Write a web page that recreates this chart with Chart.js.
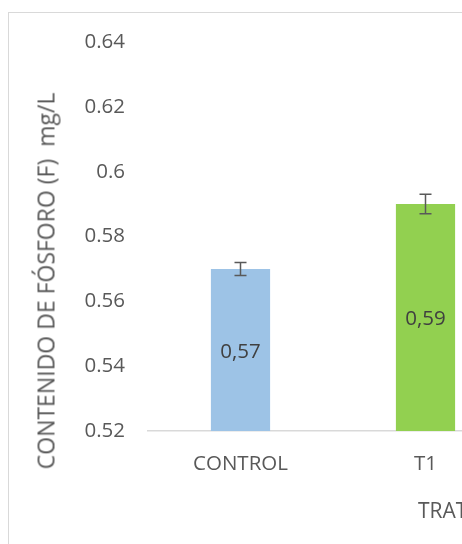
<!DOCTYPE html>
<html>
<head>
<meta charset="utf-8">
<script src="https://cdn.jsdelivr.net/npm/chart.js@4/dist/chart.umd.min.js"></script>
<style>
  html, body { margin: 0; padding: 0; background: #fff; overflow: hidden; }
  #wrap { position: relative; width: 462px; height: 544px; overflow: hidden; }
  #frame { position: absolute; left: 8px; top: 12px; width: 700px; height: 700px;
           border: 1.5px solid #d9d9d9; box-sizing: border-box; }
  canvas { position: absolute; left: 0; top: 0; }
  .ttl { position: absolute; font-family: "Open Sans", sans-serif; font-size: 20.5px;
         color: #595959; white-space: pre; line-height: 1; }
  #ytitle { left: 46px; top: 281px; font-size: 23px;
            transform: translate(-50%, -50%) rotate(-90deg); }
  #xtitle { left: 418px; top: 500px; font-size: 21px; }
</style>
</head>
<body>
<div id="wrap">
  <div id="frame"></div>
  <canvas id="grafico" width="560" height="544"></canvas>
  <div class="ttl" id="ytitle">CONTENIDO DE FÓSFORO (F)  mg/L</div>
  <div class="ttl" id="xtitle">TRATAMIENTOS</div>
</div>
<script>
const categorias = ['CONTROL', 'T1'];
const fosforo = [0.57, 0.59];
const errores = [0.002, 0.003];
const colores = ['#9dc3e6', '#92d050'];
const ticksY = [0.52, 0.54, 0.56, 0.58, 0.6, 0.62, 0.64];

const texto = '#595959';
const fuente = { family: 'Open Sans', size: 20.5 };

// barras de error y etiquetas de valor
const extras = {
  id: 'extras',
  afterDatasetsDraw(chart) {
    const ctx = chart.ctx;
    const y = chart.scales.y;
    const meta = chart.getDatasetMeta(0);
    meta.data.forEach((bar, i) => {
      const v = fosforo[i];
      const e = errores[i];
      ctx.save();
      ctx.strokeStyle = '#595959';
      ctx.lineWidth = 1.5;
      const top = y.getPixelForValue(v + e);
      const bot = y.getPixelForValue(v - e);
      ctx.beginPath();
      ctx.moveTo(bar.x, top); ctx.lineTo(bar.x, bot);
      ctx.moveTo(bar.x - 6, top); ctx.lineTo(bar.x + 6, top);
      ctx.moveTo(bar.x - 6, bot); ctx.lineTo(bar.x + 6, bot);
      ctx.stroke();

      // la base real queda fuera del eje (0), se usa el borde del área
      const base = Math.min(bar.base, chart.chartArea.bottom);
      ctx.fillStyle = '#404040';
      ctx.font = '20.5px "Open Sans"';
      ctx.textAlign = 'center';
      ctx.textBaseline = 'middle';
      ctx.fillText(v.toFixed(2).replace('.', ','), bar.x, (bar.y + base) / 2 + 2);
      ctx.restore();
    });
  }
};

const ctxFosforo = document.getElementById('grafico').getContext('2d');
new Chart(ctxFosforo, {
  type: 'bar',
  data: {
    labels: categorias,
    datasets: [{
      data: fosforo,
      backgroundColor: colores,
      categoryPercentage: 1,
      barPercentage: 0.32
    }]
  },
  options: {
    responsive: false,
    animation: false,
    devicePixelRatio: 1,
    layout: { padding: { left: 70, top: 42, right: 42, bottom: 0 } },
    plugins: { legend: { display: false }, tooltip: { enabled: false } },
    scales: {
      x: {
        grid: { display: false, drawTicks: false },
        border: { display: true, color: '#d9d9d9', width: 1.5 },
        ticks: { color: texto, font: fuente, padding: 21 },
        afterFit: s => { s.height = 113; }
      },
      y: {
        min: ticksY[0],
        max: ticksY[ticksY.length - 1],
        grid: { display: false, drawTicks: false },
        border: { display: false },
        afterBuildTicks: s => { s.ticks = ticksY.map(v => ({ value: v })); },
        ticks: {
          color: texto,
          font: fuente,
          padding: 23,
          callback: v => String(parseFloat(Number(v).toFixed(2)))
        },
        afterFit: s => { s.width = 78; }
      }
    }
  },
  plugins: [extras]
});
</script>
</body>
</html>
